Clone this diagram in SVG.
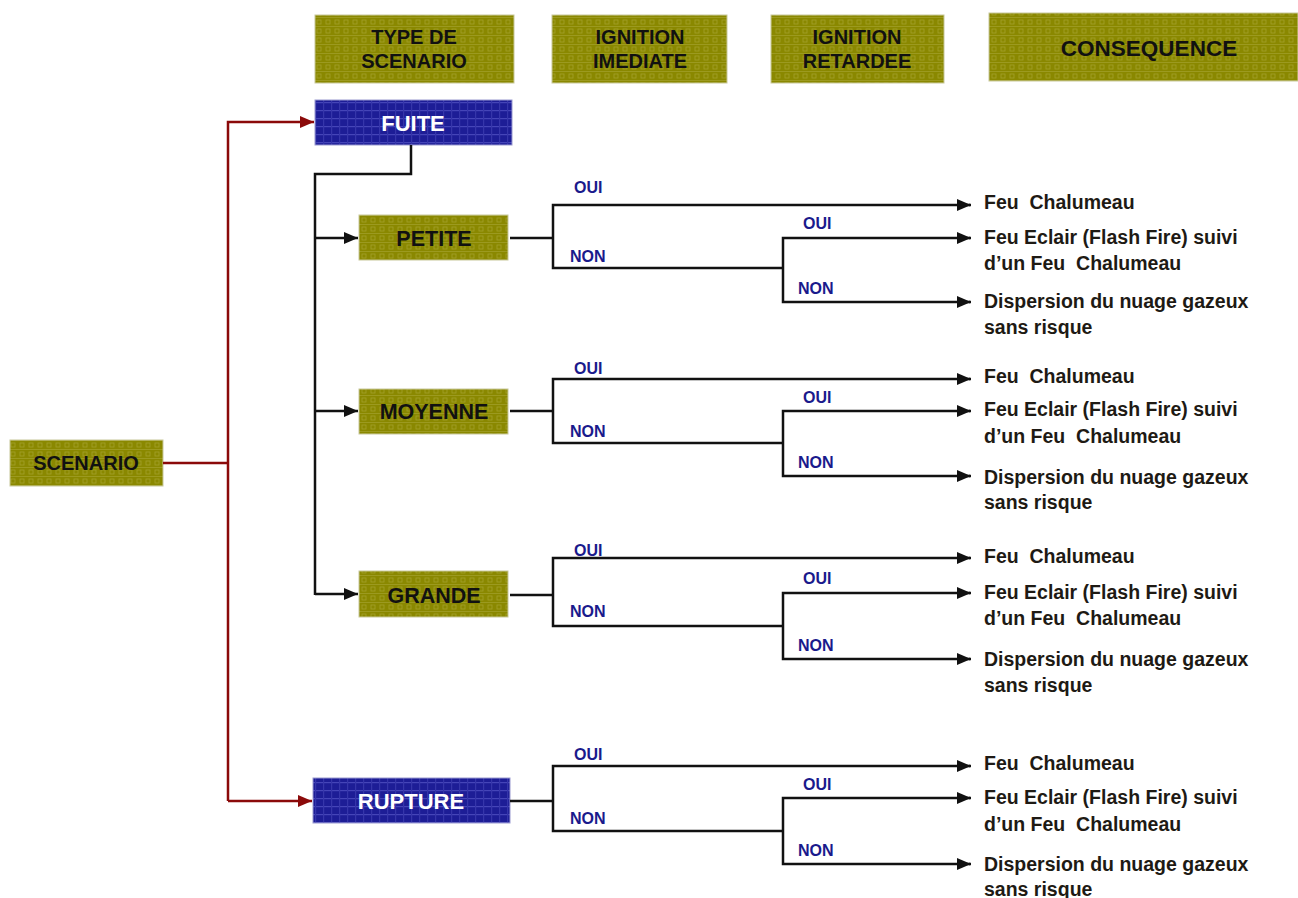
<svg xmlns="http://www.w3.org/2000/svg" width="1298" height="898" viewBox="0 0 1298 898">
<defs>
<pattern id="pOlive" width="9" height="9" patternUnits="userSpaceOnUse">
<rect width="9" height="9" fill="#8a8800"/>
<rect x="2" y="2" width="4" height="4" fill="none" stroke="#a3a02a" stroke-width="0.8"/>
<rect x="0" y="8" width="9" height="1" fill="#9c9a20"/>
</pattern>
<pattern id="pBlue" width="8" height="8" patternUnits="userSpaceOnUse">
<rect width="8" height="8" fill="#1d1d96"/>
<rect x="0" y="6" width="8" height="1.2" fill="#4545b8"/>
<rect x="3" y="0" width="1.2" height="8" fill="#3535aa"/>
</pattern>
<marker id="aBlk" viewBox="0 0 14 12" refX="14" refY="6" markerWidth="14" markerHeight="12" markerUnits="userSpaceOnUse" orient="auto">
<path d="M0,0 L14,6 L0,12 Z" fill="#111"/>
</marker>
<marker id="aRed" viewBox="0 0 14 12" refX="14" refY="6" markerWidth="14" markerHeight="12" markerUnits="userSpaceOnUse" orient="auto">
<path d="M0,0 L14,6 L0,12 Z" fill="#8b0a0a"/>
</marker>
</defs>
<style>
.ol{fill:url(#pOlive);stroke:#c8c89a;stroke-width:1}
.bl{fill:url(#pBlue);stroke:#9a9ad0;stroke-width:1}
.t{font-family:"Liberation Sans",Arial,sans-serif;font-weight:bold;text-anchor:middle}
.hd{font-size:20px;fill:#111}
.nd{font-size:21.5px;fill:#111}
.wt{font-size:22px;fill:#fff}
.lb{font-family:"Liberation Sans",Arial,sans-serif;font-weight:bold;font-size:16px;fill:#1a1a8c}
.cq{font-family:"Liberation Sans",Arial,sans-serif;font-weight:bold;font-size:19.5px;fill:#1e1a14}
.k{fill:none;stroke:#111;stroke-width:2.5}
.r{fill:none;stroke:#8b0a0a;stroke-width:2.5}
</style>
<rect width="1298" height="898" fill="#fff"/>

<g id="hdr-type"><rect class="ol" x="315" y="15" width="199" height="68"/><text class="t hd" x="414" y="44">TYPE DE</text><text class="t hd" x="414" y="68">SCENARIO</text></g>
<g id="hdr-imediate"><rect class="ol" x="552" y="15" width="175" height="68"/><text class="t hd" x="640" y="44">IGNITION</text><text class="t hd" x="640" y="68">IMEDIATE</text></g>
<g id="hdr-retardee"><rect class="ol" x="771" y="15" width="173" height="68"/><text class="t hd" x="857" y="44">IGNITION</text><text class="t hd" x="857" y="68">RETARDEE</text></g>
<g id="hdr-consequence"><rect class="ol" x="989" y="13" width="309" height="68"/><text class="t" style="font-size:22.5px;fill:#111" x="1149" y="56">CONSEQUENCE</text></g>

<g id="scenario"><rect class="ol" x="10" y="440" width="153" height="46"/><text class="t" style="font-size:20px;fill:#111" x="86" y="470">SCENARIO</text></g>
<g id="fuite"><rect class="bl" x="315" y="100" width="197" height="45"/><text class="t wt" x="413" y="131">FUITE</text></g>
<g id="petite"><rect class="ol" x="359" y="215" width="149" height="45"/><text class="t nd" x="434" y="246">PETITE</text></g>
<g id="moyenne"><rect class="ol" x="359" y="389" width="149" height="45"/><text class="t nd" x="434" y="419">MOYENNE</text></g>
<g id="grande"><rect class="ol" x="359" y="571" width="149" height="46"/><text class="t nd" x="434" y="603">GRANDE</text></g>
<g id="rupture"><rect class="bl" x="313" y="778" width="197" height="45"/><text class="t wt" x="411" y="809">RUPTURE</text></g>

<g id="connectors">
<path class="r" d="M163,463 H228"/>
<path class="r" d="M228,801 V122 H314" marker-end="url(#aRed)"/>
<path class="r" d="M228,801 H312" marker-end="url(#aRed)"/>
<path class="k" d="M411,145 V174 H315 V595"/>
<path class="k" d="M315,238 H358" marker-end="url(#aBlk)"/>
<path class="k" d="M315,411 H358" marker-end="url(#aBlk)"/>
<path class="k" d="M315,594 H358" marker-end="url(#aBlk)"/>

<path class="k" d="M510,238 H553"/>
<path class="k" d="M970,205 H553 V268 H783"/>
<path class="k" d="M970,238 H783 V302 H970"/>
<path class="k" d="M969,205 H971" marker-end="url(#aBlk)"/>
<path class="k" d="M969,238 H971" marker-end="url(#aBlk)"/>
<path class="k" d="M969,302 H971" marker-end="url(#aBlk)"/>

<path class="k" d="M510,411 H553"/>
<path class="k" d="M970,379 H553 V443 H783"/>
<path class="k" d="M970,411 H783 V476 H970"/>
<path class="k" d="M969,379 H971" marker-end="url(#aBlk)"/>
<path class="k" d="M969,411 H971" marker-end="url(#aBlk)"/>
<path class="k" d="M969,476 H971" marker-end="url(#aBlk)"/>

<path class="k" d="M510,595 H553"/>
<path class="k" d="M970,558 H553 V626 H783"/>
<path class="k" d="M970,593 H783 V659 H970"/>
<path class="k" d="M969,558 H971" marker-end="url(#aBlk)"/>
<path class="k" d="M969,593 H971" marker-end="url(#aBlk)"/>
<path class="k" d="M969,659 H971" marker-end="url(#aBlk)"/>

<path class="k" d="M510,801 H553"/>
<path class="k" d="M970,766 H553 V831 H783"/>
<path class="k" d="M970,798 H783 V864 H970"/>
<path class="k" d="M969,766 H971" marker-end="url(#aBlk)"/>
<path class="k" d="M969,798 H971" marker-end="url(#aBlk)"/>
<path class="k" d="M969,864 H971" marker-end="url(#aBlk)"/>
</g>

<g id="labels">
<text class="lb" x="574" y="193">OUI</text><text class="lb" x="570" y="262">NON</text>
<text class="lb" x="803" y="229">OUI</text><text class="lb" x="798" y="294">NON</text>
<text class="lb" x="574" y="374">OUI</text><text class="lb" x="570" y="437">NON</text>
<text class="lb" x="803" y="403">OUI</text><text class="lb" x="798" y="468">NON</text>
<text class="lb" x="574" y="556">OUI</text><text class="lb" x="570" y="617">NON</text>
<text class="lb" x="803" y="584">OUI</text><text class="lb" x="798" y="651">NON</text>
<text class="lb" x="574" y="760">OUI</text><text class="lb" x="570" y="824">NON</text>
<text class="lb" x="803" y="790">OUI</text><text class="lb" x="798" y="856">NON</text>
</g>

<g id="consequences">
<text class="cq" x="984" y="209" xml:space="preserve">Feu  Chalumeau</text>
<text class="cq" x="984" y="244">Feu Eclair (Flash Fire) suivi</text>
<text class="cq" x="984" y="270" xml:space="preserve">d’un Feu  Chalumeau</text>
<text class="cq" x="984" y="308">Dispersion du nuage gazeux</text>
<text class="cq" x="984" y="334">sans risque</text>

<text class="cq" x="984" y="383" xml:space="preserve">Feu  Chalumeau</text>
<text class="cq" x="984" y="416">Feu Eclair (Flash Fire) suivi</text>
<text class="cq" x="984" y="443" xml:space="preserve">d’un Feu  Chalumeau</text>
<text class="cq" x="984" y="484">Dispersion du nuage gazeux</text>
<text class="cq" x="984" y="509">sans risque</text>

<text class="cq" x="984" y="563" xml:space="preserve">Feu  Chalumeau</text>
<text class="cq" x="984" y="599">Feu Eclair (Flash Fire) suivi</text>
<text class="cq" x="984" y="625" xml:space="preserve">d’un Feu  Chalumeau</text>
<text class="cq" x="984" y="666">Dispersion du nuage gazeux</text>
<text class="cq" x="984" y="692">sans risque</text>

<text class="cq" x="984" y="770" xml:space="preserve">Feu  Chalumeau</text>
<text class="cq" x="984" y="804">Feu Eclair (Flash Fire) suivi</text>
<text class="cq" x="984" y="831" xml:space="preserve">d’un Feu  Chalumeau</text>
<text class="cq" x="984" y="871">Dispersion du nuage gazeux</text>
<text class="cq" x="984" y="896">sans risque</text>
</g>
</svg>
